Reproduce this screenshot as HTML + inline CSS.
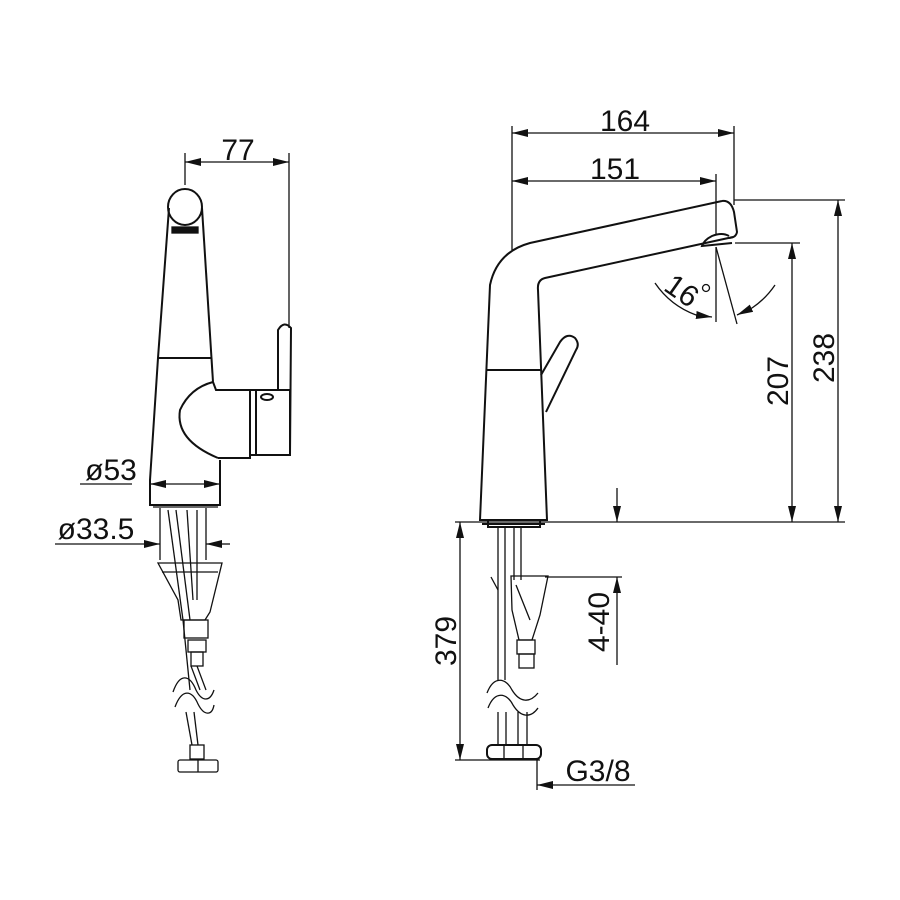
<!DOCTYPE html>
<html><head><meta charset="utf-8"><style>
html,body{margin:0;padding:0;background:#fff}
svg{display:block}
text{font-family:"Liberation Sans",sans-serif;font-size:30px;fill:#111}
</style></head><body>
<svg width="900" height="900" viewBox="0 0 900 900" xmlns="http://www.w3.org/2000/svg">
<defs>
<marker id="a" viewBox="0 0 16 8" refX="16" refY="4" markerWidth="16" markerHeight="8" markerUnits="userSpaceOnUse" orient="auto"><path d="M0,0 L16,4 L0,8 z" fill="#111"/></marker>
</defs>
<g fill="none" stroke="#111" stroke-width="1.3">
<!-- LEFT VIEW -->
<line x1="185" y1="153" x2="185" y2="185"/>
<line x1="289" y1="153" x2="289" y2="328"/>
<line x1="201" y1="162" x2="271" y2="162"/>
<line x1="201" y1="162" x2="185" y2="162" marker-end="url(#a)"/>
<line x1="271" y1="162" x2="289" y2="162" marker-end="url(#a)"/>
<text x="238" y="160" text-anchor="middle" stroke="none">77</text>
<g stroke-width="2">
<ellipse cx="185" cy="207" rx="17" ry="18"/>
<path d="M169,208 L158,358 L150,480 L150,505 L220,505 L220,460"/>
<path d="M202,208 L213,382"/>
<line x1="158" y1="358" x2="212" y2="358"/>
<path d="M213,382 Q190,388 180,410 Q175,440 218,458"/>
<path d="M213,382 L216,390 L250,390 L250,458 L218,458"/>
<path d="M250,390 L290,390 L290,455 L250,455"/>
<line x1="256" y1="390" x2="256" y2="455"/>
<path d="M278,390 L278,330 Q284,320 291,328 L290,455"/>
<ellipse cx="267" cy="397" rx="6" ry="3"/>
</g>
<rect x="172" y="227" width="26" height="6" fill="#111"/>
<line x1="80" y1="484" x2="132" y2="484"/>
<line x1="166" y1="484" x2="204" y2="484"/>
<line x1="166" y1="484" x2="150" y2="484" marker-end="url(#a)"/>
<line x1="204" y1="484" x2="220" y2="484" marker-end="url(#a)"/>
<text x="111" y="480" text-anchor="middle" stroke="none">ø53</text>
<line x1="55" y1="544" x2="144" y2="544"/>
<line x1="144" y1="544" x2="160" y2="544" marker-end="url(#a)"/>
<line x1="230" y1="544" x2="222" y2="544"/>
<line x1="222" y1="544" x2="206" y2="544" marker-end="url(#a)"/>
<text x="96" y="539" text-anchor="middle" stroke="none">ø33.5</text>
<!-- left hoses -->
<line x1="153" y1="507" x2="218" y2="507"/>
<line x1="160" y1="508" x2="160" y2="560"/>
<line x1="206" y1="508" x2="206" y2="560"/>
<line x1="168" y1="510" x2="183" y2="620"/>
<line x1="176" y1="510" x2="190" y2="620"/>
<line x1="187" y1="510" x2="193" y2="600"/>
<line x1="197" y1="510" x2="197" y2="600"/>
<path d="M158,563 L222,563 L210,612 L205,620 L181,620 L178,600 Z"/>
<line x1="162" y1="572" x2="218" y2="572"/>
<rect x="184" y="620" width="24" height="18"/>
<rect x="188" y="640" width="18" height="12"/>
<rect x="191" y="652" width="12" height="14"/>
<line x1="183" y1="620" x2="190" y2="690"/>
<line x1="191" y1="666" x2="200" y2="690"/>
<line x1="197" y1="666" x2="206" y2="690"/>
<path d="M173,692 C180,672 190,675 196,690 C202,702 210,702 214,690"/>
<path d="M175,707 C182,688 192,690 198,704 C204,716 212,716 214,705"/>
<line x1="186" y1="712" x2="192" y2="745"/>
<line x1="194" y1="712" x2="198" y2="745"/>
<rect x="190" y="745" width="14" height="14"/>
<rect x="178" y="760" width="40" height="12" rx="2"/>
<line x1="198" y1="760" x2="198" y2="772"/>

<!-- RIGHT VIEW -->
<line x1="512" y1="126" x2="512" y2="250"/>
<line x1="734" y1="126" x2="734" y2="205"/>
<line x1="716" y1="174" x2="716" y2="235"/>
<line x1="528" y1="133" x2="718" y2="133"/>
<line x1="528" y1="133" x2="512" y2="133" marker-end="url(#a)"/>
<line x1="718" y1="133" x2="734" y2="133" marker-end="url(#a)"/>
<text x="625" y="131" text-anchor="middle" stroke="none">164</text>
<line x1="528" y1="181" x2="700" y2="181"/>
<line x1="528" y1="181" x2="512" y2="181" marker-end="url(#a)"/>
<line x1="700" y1="181" x2="716" y2="181" marker-end="url(#a)"/>
<text x="615" y="179" text-anchor="middle" stroke="none">151</text>
<g stroke-width="2">
<path d="M722,201 L530,243 Q497,252 490,285 L480,520 L547,520 L538,290 Q537,280 545,278 L733,237"/>
<path d="M722,201 Q731,200 734,212 L737,232 Q736,238 728,238"/>
<path d="M729,236 Q722,232 712,236 Q704,240 702,246 L712,245 L732,243"/>
<line x1="486" y1="370" x2="542" y2="370"/>
<path d="M541,375 L560,342 Q567,332 575,338 Q580,344 576,350 L546,412"/>
<path d="M482,524 L545,524"/>
<path d="M488,520 L488,527 L540,527 L540,520"/>
</g>
<line x1="734" y1="200" x2="845" y2="200"/>
<line x1="735" y1="243" x2="800" y2="243"/>
<line x1="455" y1="522" x2="845" y2="522"/>
<line x1="838" y1="216" x2="838" y2="506"/>
<line x1="838" y1="216" x2="838" y2="200" marker-end="url(#a)"/>
<line x1="838" y1="506" x2="838" y2="522" marker-end="url(#a)"/>
<text transform="translate(834,358) rotate(-90)" text-anchor="middle" stroke="none">238</text>
<line x1="792" y1="259" x2="792" y2="506"/>
<line x1="792" y1="259" x2="792" y2="243" marker-end="url(#a)"/>
<line x1="792" y1="506" x2="792" y2="522" marker-end="url(#a)"/>
<text transform="translate(788,381) rotate(-90)" text-anchor="middle" stroke="none">207</text>
<!-- angle -->
<line x1="716" y1="247" x2="716" y2="322"/>
<line x1="716" y1="247" x2="737" y2="324"/>
<path d="M655,283 A85,85 0 0 0 696,315"/>
<line x1="696" y1="315" x2="712" y2="317" marker-end="url(#a)"/>
<path d="M775,285 A85,85 0 0 1 752,308"/>
<line x1="752" y1="308" x2="737" y2="315" marker-end="url(#a)"/>
<text transform="translate(676,299) rotate(35)" text-anchor="middle" stroke="none">16</text>
<circle cx="706" cy="288" r="3.5"/>
<!-- 4-40 -->
<line x1="617" y1="488" x2="617" y2="506"/>
<line x1="617" y1="506" x2="617" y2="522" marker-end="url(#a)"/>
<line x1="617" y1="665" x2="617" y2="593"/>
<line x1="617" y1="593" x2="617" y2="577" marker-end="url(#a)"/>
<line x1="545" y1="577" x2="622" y2="577"/>
<text transform="translate(609,622) rotate(-90)" text-anchor="middle" stroke="none">4-40</text>
<!-- 379 -->
<line x1="460" y1="538" x2="460" y2="744"/>
<line x1="460" y1="538" x2="460" y2="522" marker-end="url(#a)"/>
<line x1="460" y1="744" x2="460" y2="760" marker-end="url(#a)"/>
<line x1="455" y1="760" x2="540" y2="760"/>
<text transform="translate(456,641) rotate(-90)" text-anchor="middle" stroke="none">379</text>
<!-- G3/8 -->
<line x1="537" y1="760" x2="537" y2="790"/>
<line x1="635" y1="785" x2="553" y2="785"/>
<line x1="553" y1="785" x2="537" y2="785" marker-end="url(#a)"/>
<text x="598" y="781" text-anchor="middle" stroke="none">G3/8</text>
<!-- right hoses -->
<line x1="498" y1="528" x2="498" y2="680"/>
<line x1="505" y1="528" x2="505" y2="680"/>
<line x1="514" y1="528" x2="514" y2="580"/>
<line x1="521" y1="528" x2="521" y2="580"/>
<path d="M491,577 L498,590"/>
<path d="M511,576 L548,576 L540,615 L532,640 L519,640 L512,610 Z"/>
<line x1="516" y1="585" x2="530" y2="620"/>
<rect x="517" y="640" width="18" height="14"/>
<rect x="519" y="654" width="15" height="14"/>
<path d="M487,693 C494,675 506,678 512,690 C520,703 530,703 538,693"/>
<path d="M488,708 C495,690 507,693 513,705 C521,718 531,718 538,708"/>
<line x1="498" y1="712" x2="498" y2="745"/>
<line x1="506" y1="712" x2="506" y2="745"/>
<line x1="518" y1="712" x2="518" y2="745"/>
<line x1="527" y1="712" x2="527" y2="745"/>
<rect x="487" y="745" width="54" height="14" rx="5" stroke-width="2"/>
<line x1="504" y1="745" x2="504" y2="759"/>
<line x1="523" y1="745" x2="523" y2="759"/>
</g>
</svg>
</body></html>
